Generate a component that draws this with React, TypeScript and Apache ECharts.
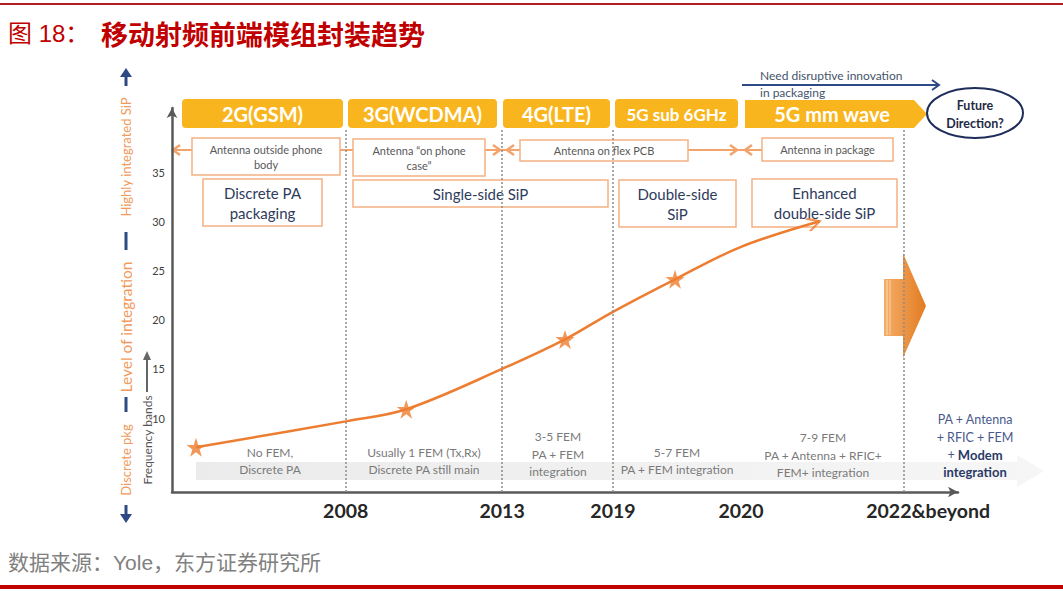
import React, { useEffect, useRef } from 'react';
import * as echarts from 'echarts';

// ---------------- data ----------------
const generations = ['2G(GSM)', '3G(WCDMA)', '4G(LTE)', '5G sub 6GHz', '5G mm wave'];
const yearLabels = ['2008', '2013', '2019', '2020', '2022&beyond'];
const yearLabelPos = [22.1, 42.0, 56.1, 72.4, 96.2];
const boundaryX = [22.1, 42.0, 56.1, 72.4, 93.1];
const yTicks = [10, 15, 20, 25, 30, 35];
const curveX = [3.05, 22.3, 29.8, 42.0, 50.0, 56.1, 64.0, 72.4, 82.4];
const curveY = [7.05, 9.7, 10.9, 15.0, 18.0, 20.8, 24.1, 27.4, 30.0];
const milestoneX = [3.05, 29.8, 50.0, 64.0];
const milestoneY = [7.05, 10.9, 18.0, 24.1];
const antennaLabels = [
  'Antenna outside phone\nbody',
  'Antenna \u201Con phone\ncase\u201D',
  'Antenna on flex PCB',
  'Antenna in package',
];
const packagingLabels = ['Discrete PA\npackaging', 'Single-side SiP', 'Double-side\nSiP', 'Enhanced\ndouble-side SiP'];
const integrationLabels = [
  'No FEM,\nDiscrete PA',
  'Usually 1 FEM (Tx,Rx)\nDiscrete PA still main',
  '3-5 FEM\nPA + FEM\nintegration',
  '5-7 FEM\nPA + FEM integration',
  '7-9 FEM\nPA + Antenna + RFIC+\nFEM+ integration',
];
const futureLines = ['PA + Antenna', '+ RFIC + FEM', '+ ', 'Modem', 'integration'];

// ---------------- layout ----------------
const W = 1063;
const H = 591;
const GRID = { left: 172, right: 105, top: 108, bottom: 99 };
const X_MIN = 0, X_MAX = 100, Y_MIN = 2.5, Y_MAX = 41.5;
const plotW = W - GRID.left - GRID.right;
const plotH = H - GRID.top - GRID.bottom;
const yFromPx = (py: number) => Y_MIN + ((H - GRID.bottom - py) / plotH) * (Y_MAX - Y_MIN);
const FONT = 'Lato, "Noto Sans", sans-serif';
const CJK = '"Noto Sans CJK SC", sans-serif';
const LATIN_CJK = '"Liberation Sans", "Noto Sans CJK SC", sans-serif';
const ORANGE = '#ED7D31';
const BOX_STROKE = '#F4B183';
const YELLOW = '#F9B51D';
const NAVY = '#2E4A86';

const bannerBoxes = [[182, 161], [348, 149], [503, 107], [615, 123]];
const bannerFont = [20, 20, 20, 17, 20];
const antennaBoxes = [[192, 138, 148, 37], [353, 139, 132, 37], [520, 140, 168, 21], [762, 138, 131, 23]];
const packagingBoxes = [[203, 179, 119, 47], [353, 180, 255, 27], [619, 180, 117, 47], [752, 179, 145, 48]];
const integrationPos = [[270, 461], [424, 461], [558, 454], [677, 461], [823, 455]];
const lineTopsPx = [128, 128, 128, 68, 128];

export default function App() {
  const ref = useRef<HTMLDivElement>(null);
  useEffect(() => {
    document.body.style.margin = '0';
    if (!ref.current) return;
    const chart = echarts.init(ref.current, null, { renderer: 'svg' });

    const n = curveX.length;
    const dx = ((curveX[n - 1] - curveX[n - 2]) / (X_MAX - X_MIN)) * plotW;
    const dy = ((curveY[n - 1] - curveY[n - 2]) / (Y_MAX - Y_MIN)) * plotH;
    const arrowAngle = (Math.atan2(dy, dx) * 180) / Math.PI;

    const g: any[] = [];
    // top / bottom rules
    g.push({ type: 'rect', shape: { x: 0, y: 3, width: W, height: 2 }, style: { fill: '#B01E23' } });
    g.push({ type: 'rect', shape: { x: 0, y: 585, width: W, height: 4 }, style: { fill: '#C00000' } });
    // title
    g.push({ type: 'text', x: 8, y: 33, style: { text: '图 18：', fill: '#C00000', fontSize: 24, fontFamily: LATIN_CJK, verticalAlign: 'middle' } });
    g.push({ type: 'text', x: 101, y: 33, style: { text: '移动射频前端模组封装趋势', fill: '#C00000', fontSize: 27, fontWeight: 'bold', fontFamily: CJK, verticalAlign: 'middle' } });
    // source
    g.push({ type: 'text', x: 8, y: 562, style: { text: '数据来源：Yole，东方证券研究所', fill: '#808080', fontSize: 21, fontFamily: LATIN_CJK, verticalAlign: 'middle' } });

    // bottom gray band arrow
    g.push({
      type: 'polygon',
      shape: { points: [[196, 462], [1017, 462], [1017, 455], [1044, 471], [1017, 487], [1017, 480], [196, 480]] },
      style: { fill: new echarts.graphic.LinearGradient(0, 0, 1, 0, [{ offset: 0, color: '#EBEBEB' }, { offset: 1, color: '#F6F6F6' }]) },
    });

    // banners
    bannerBoxes.forEach(([x, w], i) => {
      g.push({ type: 'rect', shape: { x, y: 99, width: w, height: 29, r: 4 }, style: { fill: YELLOW } });
      g.push({ type: 'text', x: x + w / 2, y: 114, style: { text: generations[i], fill: '#fff', fontSize: bannerFont[i], fontWeight: 'bold', fontFamily: FONT, align: 'center', verticalAlign: 'middle' } });
    });
    g.push({ type: 'polygon', shape: { points: [[745, 100], [914, 100], [927, 114], [914, 128], [745, 128]] }, style: { fill: YELLOW } });
    g.push({ type: 'text', x: 832, y: 114, style: { text: generations[4], fill: '#fff', fontSize: bannerFont[4], fontWeight: 'bold', fontFamily: FONT, align: 'center', verticalAlign: 'middle' } });

    // future direction
    g.push({ type: 'ellipse', shape: { cx: 975, cy: 113, rx: 48, ry: 25 }, style: { fill: '#fff', stroke: '#1F2D5A', lineWidth: 2 } });
    g.push({ type: 'text', x: 975, y: 114, style: { text: 'Future\nDirection?', fill: '#1F2A44', fontSize: 12.5, fontWeight: 'bold', fontFamily: FONT, align: 'center', verticalAlign: 'middle', lineHeight: 18 } });
    g.push({ type: 'text', x: 760, y: 84, style: { text: 'Need disruptive innovation\nin packaging', fill: '#44546A', fontSize: 12, fontFamily: FONT, verticalAlign: 'middle', lineHeight: 17 } });
    g.push({ type: 'line', shape: { x1: 742, y1: 85, x2: 938, y2: 85 }, style: { stroke: NAVY, lineWidth: 2 } });
    g.push({ type: 'polyline', shape: { points: [[932, 80], [939, 85], [932, 90]] }, style: { stroke: NAVY, lineWidth: 2, fill: 'none' } });

    // antenna arrow line
    const ant = '#F2A46C';
    g.push({ type: 'line', shape: { x1: 173, y1: 150, x2: 762, y2: 150 }, style: { stroke: ant, lineWidth: 2 } });
    const heads: [number, number][] = [[173, -1], [500, 1], [507, -1], [737, 1], [745, -1]];
    heads.forEach(([x, d]) => {
      g.push({ type: 'polyline', shape: { points: [[x - 7 * d, 145], [x, 150], [x - 7 * d, 155]] }, style: { stroke: ant, lineWidth: 2.5, fill: 'none' } });
    });
    antennaBoxes.forEach(([x, y, w, h], i) => {
      g.push({ type: 'rect', shape: { x, y, width: w, height: h }, style: { fill: '#fff', stroke: BOX_STROKE, lineWidth: 1.5 } });
      g.push({ type: 'text', x: x + w / 2, y: y + h / 2, style: { text: antennaLabels[i], fill: '#595959', fontSize: 11, fontFamily: FONT, align: 'center', verticalAlign: 'middle', lineHeight: 15 } });
    });
    packagingBoxes.forEach(([x, y, w, h], i) => {
      g.push({ type: 'rect', shape: { x, y, width: w, height: h }, style: { fill: '#fff', stroke: BOX_STROKE, lineWidth: 1.5 } });
      g.push({ type: 'text', x: x + w / 2, y: y + h / 2, style: { text: packagingLabels[i], fill: '#2F3B5C', fontSize: 15, fontFamily: FONT, align: 'center', verticalAlign: 'middle', lineHeight: 20 } });
    });

    // bottom integration texts
    integrationPos.forEach(([x, y], i) => {
      g.push({ type: 'text', x, y, style: { text: integrationLabels[i], fill: '#7A7A7A', fontSize: 12, fontFamily: FONT, align: 'center', verticalAlign: 'middle', lineHeight: 17.5 } });
    });
    g.push({
      type: 'text', x: 975, y: 446,
      style: {
        text: `{n|${futureLines[0]}}\n{n|${futureLines[1]}}\n{n|${futureLines[2]}}{b|${futureLines[3]}}\n{b|${futureLines[4]}}`,
        align: 'center', verticalAlign: 'middle',
        rich: {
          n: { fill: '#4A5A8C', fontSize: 12.5, fontFamily: FONT, lineHeight: 17.5 },
          b: { fill: '#2B3A67', fontSize: 13, fontWeight: 'bold', fontFamily: FONT, lineHeight: 17.5 },
        },
      },
    });

    // big orange arrow
    g.push({
      type: 'polygon',
      shape: { points: [[884, 279], [903, 279], [903, 253], [926, 306], [903, 358], [903, 336], [884, 336]] },
      style: { fill: new echarts.graphic.LinearGradient(0, 0, 1, 0, [{ offset: 0, color: '#F4AE67' }, { offset: 1, color: '#E37B22' }]) },
    });
    g.push({ type: 'line', shape: { x1: 887, y1: 280, x2: 887, y2: 335 }, style: { stroke: 'rgba(255,255,255,0.6)', lineWidth: 1 } });
    g.push({ type: 'line', shape: { x1: 890, y1: 280, x2: 890, y2: 335 }, style: { stroke: 'rgba(255,255,255,0.5)', lineWidth: 1 } });

    // left axis title
    const lo = '#F19A5C';
    g.push({ type: 'text', x: 126, y: 157, rotation: Math.PI / 2, style: { text: 'Highly integrated SiP', fill: lo, fontSize: 13, fontFamily: FONT, align: 'center', verticalAlign: 'middle' } });
    g.push({ type: 'text', x: 126, y: 327, rotation: Math.PI / 2, style: { text: 'Level of integration', fill: lo, fontSize: 15.5, fontFamily: FONT, align: 'center', verticalAlign: 'middle' } });
    g.push({ type: 'text', x: 126, y: 460, rotation: Math.PI / 2, style: { text: 'Discrete pkg', fill: lo, fontSize: 13, fontFamily: FONT, align: 'center', verticalAlign: 'middle' } });
    g.push({ type: 'rect', shape: { x: 124.5, y: 232, width: 3, height: 18 }, style: { fill: NAVY } });
    g.push({ type: 'rect', shape: { x: 124.5, y: 397, width: 3, height: 15 }, style: { fill: NAVY } });
    g.push({ type: 'line', shape: { x1: 126, y1: 74, x2: 126, y2: 86 }, style: { stroke: NAVY, lineWidth: 3 } });
    g.push({ type: 'polygon', shape: { points: [[120, 77], [126, 68], [132, 77]] }, style: { fill: NAVY } });
    g.push({ type: 'line', shape: { x1: 126, y1: 505, x2: 126, y2: 517 }, style: { stroke: NAVY, lineWidth: 3 } });
    g.push({ type: 'polygon', shape: { points: [[120, 514], [126, 523], [132, 514]] }, style: { fill: NAVY } });
    g.push({ type: 'text', x: 147, y: 440, rotation: Math.PI / 2, style: { text: 'Frequency bands', fill: '#555', fontSize: 12, fontFamily: FONT, align: 'center', verticalAlign: 'middle' } });
    g.push({ type: 'line', shape: { x1: 147, y1: 392, x2: 147, y2: 358 }, style: { stroke: '#666', lineWidth: 2 } });
    g.push({ type: 'polygon', shape: { points: [[143, 360], [147, 351], [151, 360]] }, style: { fill: '#666' } });

    const gray = { color: '#8C8C8C', type: [2, 2], width: 1.5 };
    const red = { color: '#D9343A', type: [3, 2], width: 1.5 };

    const option: any = {
      animation: false,
      backgroundColor: '#ffffff',
      grid: { ...GRID },
      xAxis: {
        type: 'value', min: X_MIN, max: X_MAX,
        splitLine: { show: false }, axisTick: { show: false },
        axisLine: { show: true, onZero: false, symbol: ['none', 'arrow'], symbolSize: [8, 10], lineStyle: { color: '#595959', width: 2.5 } },
        axisLabel: {
          customValues: yearLabelPos,
          formatter: (v: number) => {
            const i = yearLabelPos.findIndex((p) => Math.abs(p - v) < 0.01);
            return i >= 0 ? yearLabels[i] : '';
          },
          color: '#262626', fontSize: 19.5, fontWeight: 'bold', fontFamily: FONT, margin: 8,
        },
      },
      yAxis: {
        type: 'value', min: Y_MIN, max: Y_MAX,
        splitLine: { show: false }, axisTick: { show: false },
        axisLine: { show: true, onZero: false, symbol: ['none', 'arrow'], symbolSize: [8, 10], lineStyle: { color: '#595959', width: 2.5 } },
        axisLabel: { customValues: yTicks, color: '#404040', fontSize: 11, fontFamily: FONT, margin: 7 },
      },
      graphic: { elements: g },
      series: [
        {
          type: 'line', name: 'integration',
          data: curveX.map((x, i) => [x, curveY[i]]),
          smooth: 0.35, showSymbol: false, clip: false, silent: true, z: 3,
          lineStyle: { color: ORANGE, width: 2.5 },
          markLine: {
            silent: true, symbol: ['none', 'none'], label: { show: false },
            data: boundaryX.map((x, i) => [
              { coord: [x, Y_MIN], lineStyle: i === 3 ? red : gray },
              { coord: [x, yFromPx(lineTopsPx[i])] },
            ]),
          },
        },
        {
          type: 'scatter', name: 'milestones', silent: true, z: 4,
          data: milestoneX.map((x, i) => [x, milestoneY[i]]),
          symbol: 'path://M10,0 L12.4,7.2 L20,7.2 L13.8,11.8 L16.2,19 L10,14.5 L3.8,19 L6.2,11.8 L0,7.2 L7.6,7.2 Z',
          symbolSize: 19,
          itemStyle: { color: ORANGE },
        },
        {
          type: 'scatter', name: 'arrowhead', silent: true, z: 4,
          data: [[curveX[n - 1], curveY[n - 1]]],
          symbol: 'path://M0,0 L10,6 L0,12 M20,6',
          symbolSize: [24, 13],
          symbolRotate: arrowAngle,
          itemStyle: { color: 'none', borderColor: ORANGE, borderWidth: 2.5 },
        },
      ],
    };
    chart.setOption(option);
    return () => chart.dispose();
  }, []);
  return <div ref={ref} style={{ width: W, height: H }} />;
}
